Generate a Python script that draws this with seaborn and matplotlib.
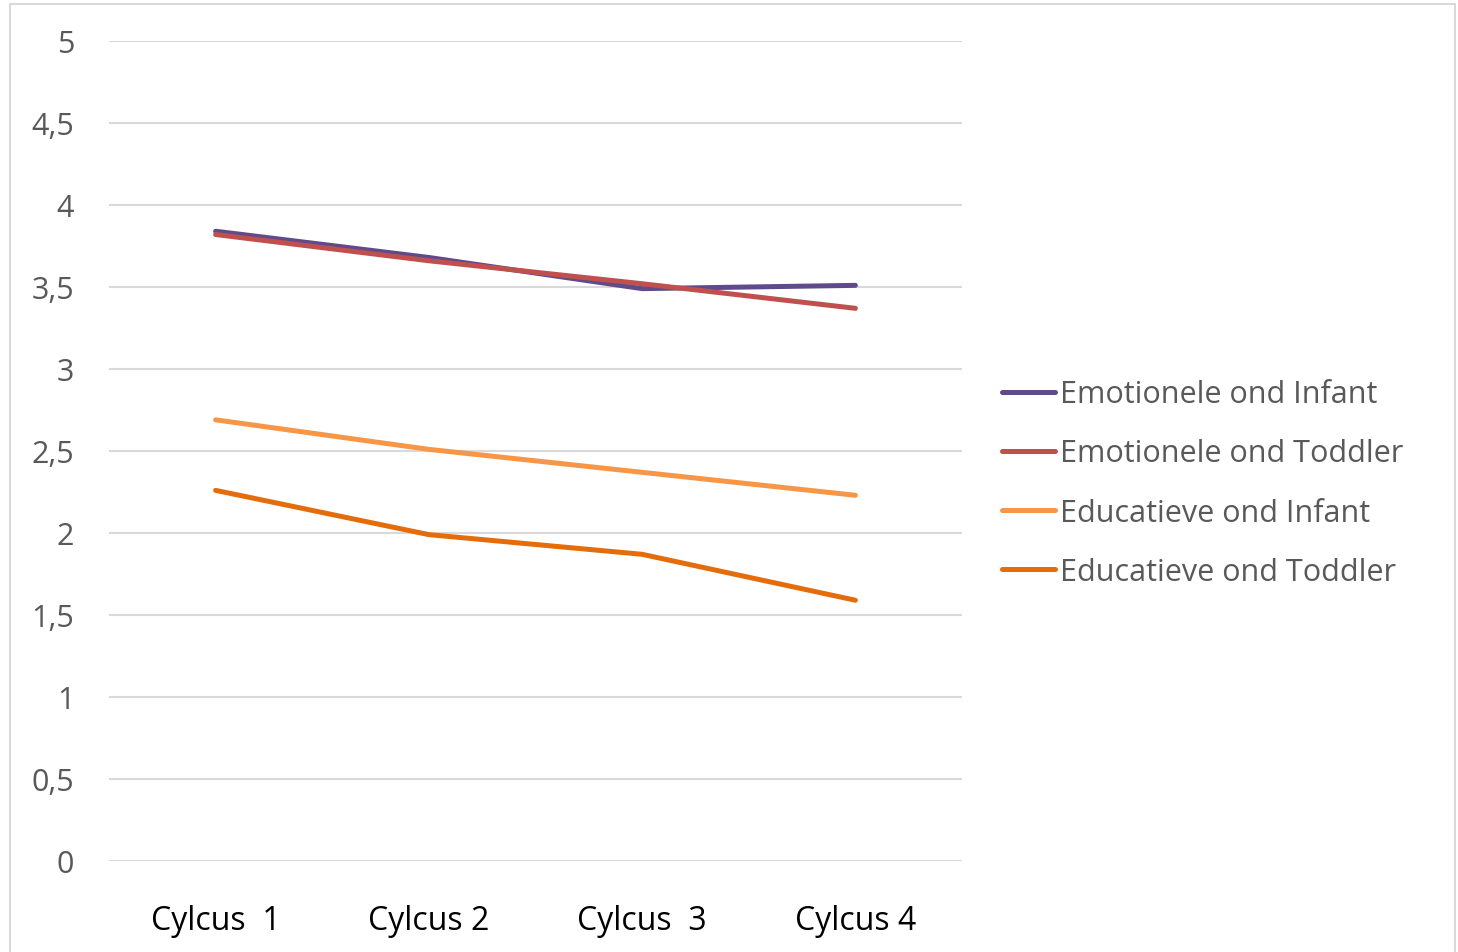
import matplotlib
matplotlib.use("Agg")
import matplotlib.pyplot as plt
import seaborn as sns
import pandas as pd
from matplotlib.patches import Rectangle

cycles = ["Cylcus  1", "Cylcus 2", "Cylcus  3", "Cylcus 4"]
emo_infant = [3.84, 3.68, 3.49, 3.51]
emo_toddler = [3.82, 3.66, 3.52, 3.37]
edu_infant = [2.69, 2.51, 2.37, 2.23]
edu_toddler = [2.26, 1.99, 1.87, 1.59]

series = {
    "Emotionele ond Infant": emo_infant,
    "Emotionele ond Toddler": emo_toddler,
    "Educatieve ond Infant": edu_infant,
    "Educatieve ond Toddler": edu_toddler,
}
colors = ["#5F4B8B", "#C0504D", "#F79646", "#E46C0A"]

rows = []
for name, vals in series.items():
    for c, v in zip(cycles, vals):
        rows.append({"Cyclus": c, "Score": v, "Groep": name})
df = pd.DataFrame(rows)

sns.set_theme(style="white")
plt.rcParams["font.family"] = ["Open Sans", "DejaVu Sans"]

fig = plt.figure(figsize=(14.58, 9.53), dpi=100)
ax = fig.add_axes([109 / 1458, 1 - 862 / 953, (962 - 109) / 1458, (862 - 42) / 953])

# outer chart border
fig.patches.append(Rectangle((10 / 1458, -0.01), 1445 / 1458, 1 - 5 / 953 + 0.01,
                             transform=fig.transFigure, fill=False,
                             edgecolor="#D9D9D9", linewidth=1.5))

sns.lineplot(data=df, x="Cyclus", y="Score", hue="Groep", palette=colors,
             linewidth=3.6, sort=False, ax=ax, legend=True)
for line in ax.get_lines():
    line.set_solid_capstyle("round")

ax.set_xlim(-0.5, 3.5)
ax.set_ylim(0, 5)
yt = [0, 0.5, 1, 1.5, 2, 2.5, 3, 3.5, 4, 4.5, 5]
ax.set_yticks(yt)
ax.set_yticklabels([f"{v:g}".replace(".", ",") for v in yt], fontsize=22, color="#595959")
ax.tick_params(axis="y", length=0, pad=25)
ax.tick_params(axis="x", length=0, pad=31, labelsize=23, labelcolor="black")
ax.yaxis.grid(True, color="#D9D9D9", linewidth=1.5)
ax.set_axisbelow(True)
for s in ax.spines.values():
    s.set_visible(False)
ax.set_xlabel("")
ax.set_ylabel("")

handles, labels = ax.get_legend_handles_labels()
for h in handles:
    h.set_linewidth(3.6)
ax.legend(handles, labels, loc="center left", bbox_to_anchor=(1002 / 1458, 1 - 484 / 953),
          bbox_transform=fig.transFigure, frameon=False, fontsize=22,
          labelcolor="#595959", handlelength=1.75, handletextpad=0.15,
          labelspacing=0.95, borderaxespad=0, borderpad=0)

plt.savefig("out.png", dpi=100)
plt.close()
